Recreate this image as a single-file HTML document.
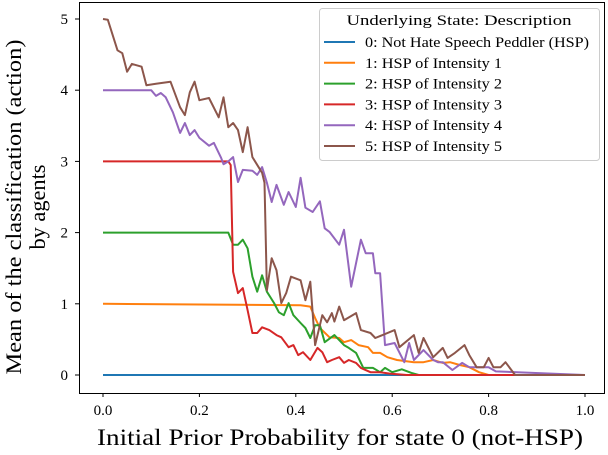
<!DOCTYPE html>
<html><head><meta charset="utf-8"><style>
body{margin:0;background:#fff}
svg text{font-family:"Liberation Serif",serif;fill:#000}
</style></head><body>
<svg id="chart" width="608" height="450" xmlns="http://www.w3.org/2000/svg">
<rect x="0" y="0" width="608" height="450" fill="#fff"/>
<g id="series"></g>
<rect x="79.5" y="2.5" width="525" height="391" fill="none" stroke="#000" stroke-width="1"/>
<g id="axes"></g>
<text transform="translate(21,207) rotate(-90)" text-anchor="middle" font-size="22" textLength="335" lengthAdjust="spacingAndGlyphs">Mean of the classification (action)</text>
<text transform="translate(45,207) rotate(-90)" text-anchor="middle" font-size="22" textLength="85" lengthAdjust="spacingAndGlyphs">by agents</text>
<text x="340" y="445" text-anchor="middle" font-size="23" textLength="486" lengthAdjust="spacingAndGlyphs">Initial Prior Probability for state 0 (not-HSP)</text>
<g>
<rect x="319.5" y="8.5" width="280" height="152" rx="3" fill="#fff" fill-opacity="0.85" stroke="#ccc"/>
<text x="459" y="25" text-anchor="middle" font-size="15" textLength="225" lengthAdjust="spacingAndGlyphs">Underlying State: Description</text>
<g id="legend-entries"></g>
</g>
</svg>
<script>
const xTicks=[0,0.2,0.4,0.6,0.8,1.0];
const xTickLabels=["0.0","0.2","0.4","0.6","0.8","1.0"];
const yTicks=[0,1,2,3,4,5];
const yTickLabels=["0","1","2","3","4","5"];
const seriesNames=["0: Not Hate Speech Peddler (HSP)","1: HSP of Intensity 1","2: HSP of Intensity 2","3: HSP of Intensity 3","4: HSP of Intensity 4","5: HSP of Intensity 5"];
const seriesColors=["#1f77b4","#ff7f0e","#2ca02c","#d62728","#9467bd","#8c564b"];
const s0x=[0,1];
const s0y=[0,0];
const s1x=[0,0.41,0.43,0.44,0.45,0.47,0.49,0.5,0.515,0.53,0.55,0.56,0.575,0.59,0.61,0.645,0.665,0.685,0.705,0.72,0.74,0.76,0.78,0.8,1];
const s1y=[1,0.98,0.96,0.8,0.66,0.53,0.52,0.46,0.49,0.42,0.39,0.31,0.31,0.25,0.21,0.18,0.18,0.21,0.17,0.18,0.14,0.11,0.04,0,0];
const s2x=[0,0.26,0.27,0.28,0.29,0.30,0.31,0.32,0.33,0.34,0.355,0.365,0.375,0.385,0.395,0.41,0.42,0.43,0.44,0.45,0.46,0.48,0.5,0.51,0.525,0.54,0.56,0.575,0.585,0.6,0.62,0.64,0.655,1];
const s2y=[2,2,1.83,1.83,1.9,1.78,1.38,1.17,1.4,1.17,1.01,0.88,0.84,1.01,0.84,0.73,0.66,0.52,0.7,0.7,0.46,0.56,0.42,0.38,0.31,0.1,0.1,0.04,0.1,0.04,0.08,0.03,0,0];
const s3x=[0,0.26,0.265,0.27,0.28,0.29,0.30,0.31,0.32,0.33,0.345,0.36,0.37,0.385,0.395,0.405,0.415,0.43,0.445,0.455,0.465,0.475,0.49,0.5,0.51,0.525,0.535,0.555,0.575,0.595,0.63,1];
const s3y=[3,3,2.95,1.45,1.15,1.22,0.91,0.59,0.59,0.67,0.63,0.56,0.53,0.39,0.42,0.28,0.32,0.21,0.38,0.32,0.18,0.21,0.25,0.17,0.21,0.17,0.1,0.04,0.04,0.02,0,0];
const s4x=[0,0.1,0.11,0.12,0.13,0.145,0.16,0.17,0.18,0.19,0.2,0.22,0.23,0.245,0.25,0.26,0.27,0.28,0.29,0.31,0.32,0.33,0.34,0.35,0.36,0.375,0.385,0.4,0.41,0.42,0.435,0.45,0.46,0.47,0.49,0.5,0.515,0.535,0.545,0.56,0.565,0.575,0.585,0.605,0.625,0.635,0.645,0.665,0.685,0.695,0.705,0.725,0.745,0.76,0.775,0.8,0.815,1];
const s4y=[4,4,3.92,3.96,3.9,3.69,3.4,3.54,3.37,3.44,3.33,3.22,3.26,3.05,2.96,3.0,3.06,2.71,2.88,2.87,2.81,2.92,2.7,2.43,2.67,2.39,2.57,2.36,2.77,2.35,2.29,2.44,2.06,2.01,1.83,2.04,1.24,1.9,1.71,1.71,1.43,1.43,0.42,0.45,0.18,0.45,0.21,0.35,0.21,0.18,0.18,0.07,0.17,0.11,0.11,0.11,0.05,0,0];
const s5x=[0,0.01,0.03,0.04,0.05,0.06,0.08,0.09,0.11,0.14,0.16,0.17,0.18,0.19,0.2,0.22,0.24,0.25,0.26,0.27,0.28,0.29,0.3,0.31,0.33,0.335,0.34,0.35,0.36,0.37,0.38,0.39,0.41,0.42,0.43,0.44,0.455,0.465,0.475,0.48,0.49,0.5,0.525,0.535,0.555,0.565,0.605,0.615,0.645,0.655,0.665,0.685,0.705,0.715,0.73,0.75,0.76,0.775,0.79,0.8,0.81,0.825,0.835,0.855,1];
const s5y=[5,4.99,4.56,4.52,4.26,4.37,4.33,4.07,4.09,4.12,3.76,3.65,3.97,4.12,3.86,3.89,3.62,3.9,3.48,3.54,3.44,3.13,3.48,3.06,2.84,2.7,1.19,1.64,1.47,1.01,1.15,1.38,1.33,1.05,1.31,0.42,0.84,0.74,0.87,0.75,0.96,0.77,0.87,0.63,0.59,0.52,0.63,0.39,0.56,0.31,0.52,0.25,0.38,0.24,0.31,0.42,0.28,0.11,0.11,0.24,0.11,0.11,0.18,0,0];
const allX=[s0x,s1x,s2x,s3x,s4x,s5x];
const allY=[s0y,s1y,s2y,s3y,s4y,s5y];

const NS="http://www.w3.org/2000/svg";
function sx(v){return 103+482*v;}
function sy(v){return 375-71.2*v;}
const axes=document.getElementById('axes');
const series=document.getElementById('series');
const leg=document.getElementById('legend-entries');
function mk(tag,attrs,parent){const e=document.createElementNS(NS,tag);for(const k in attrs)e.setAttribute(k,attrs[k]);parent.appendChild(e);return e;}
xTicks.forEach((t,i)=>{
  const l=mk('line',{x1:sx(t),x2:sx(t),y1:393,y2:397,stroke:'#000'},axes);
  
  
  const tx=mk('text',{x:sx(t),y:415,'text-anchor':'middle','font-size':15},axes);
  tx.textContent=xTickLabels[i];
  
  
});
yTicks.forEach((t,i)=>{
  const l=mk('line',{x1:75,x2:79,y1:sy(t),y2:sy(t),stroke:'#000'},axes);
  
  
  const tx=mk('text',{x:68,y:sy(t)+5,'text-anchor':'end','font-size':15},axes);
  tx.textContent=yTickLabels[i];
  
  
});
allX.forEach((xs,k)=>{
  const ys=allY[k];
  const pts=xs.map((x,i)=>sx(x).toFixed(1)+','+sy(ys[i]).toFixed(1)).join(' ');
  const p=mk('polyline',{points:pts,fill:'none',stroke:seriesColors[k],'stroke-width':2,'stroke-linejoin':'round'},series);
  
  
  const y=42+20.8*k;
  const ll=mk('line',{x1:324,x2:355,y1:y,y2:y,stroke:seriesColors[k],'stroke-width':2},leg);
  
  
  const lt=mk('text',{x:365,y:y+5,'font-size':15,textLength:(k===0?224:137),lengthAdjust:'spacingAndGlyphs'},leg);
  lt.textContent=seriesNames[k];
  
  
});
</script>
</body></html>
